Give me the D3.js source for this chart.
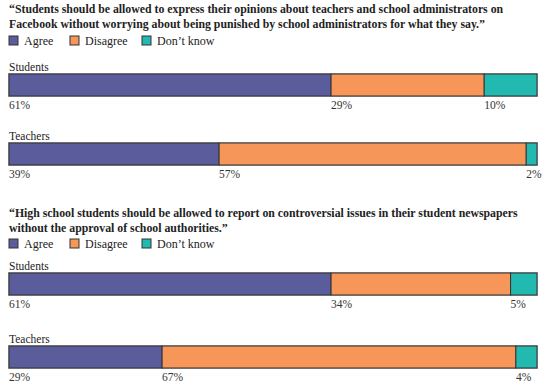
<!DOCTYPE html>
<html>
<head>
<meta charset="utf-8">
<script src="https://cdn.jsdelivr.net/npm/d3@7"></script>
<style>
  body { margin: 0; background: #fff; }
  svg text { font-family: "Liberation Serif", "Times New Roman", serif; }
</style>
</head>
<body>
<div id="chart"></div>
<script>
// data
var categories = ["Agree", "Disagree", "Don\u2019t know"];
var groups = ["Students", "Teachers"];
var q1Title = ["\u201cStudents should be allowed to express their opinions about teachers and school administrators on",
               "Facebook without worrying about being punished by school administrators for what they say.\u201d"];
var q2Title = ["\u201cHigh school students should be allowed to report on controversial issues in their student newspapers",
               "without the approval of school authorities.\u201d"];
var q1Students = [61, 29, 10];
var q1Teachers = [39, 57, 2];
var q2Students = [61, 34, 5];
var q2Teachers = [29, 67, 4];

var width = 547, height = 387;
var left = 9, right = 537;
var barH = 22;
var colors = d3.scaleOrdinal()
    .domain(categories)
    .range(["#5a5c9c", "#f79659", "#22b9b1"]);

var svg = d3.select("#chart")
    .append("svg")
    .attr("width", width)
    .attr("height", height);

// one question block: title, legend, two bars
// titleY = baseline of first title line, legY = top of legend boxes, barY = top of each bar
function block(titleY, legY, barY, title, rows) {
    var g = svg.append("g");

    g.selectAll("text.title")
        .data(title)
        .enter().append("text")
        .attr("x", left)
        .attr("y", function(d, i) { return titleY + i * 15; })
        .attr("font-size", 11.8)
        .attr("font-weight", "bold")
        .attr("fill", "#222")
        .text(function(d) { return d; });

    // legend
    var legX = [left, 70, 142];
    var leg = g.selectAll("g.leg")
        .data(categories)
        .enter().append("g")
        .attr("transform", function(d, i) { return "translate(" + legX[i] + "," + legY + ")"; });
    leg.append("rect")
        .attr("width", 9)
        .attr("height", 9)
        .attr("fill", function(d) { return colors(d); })
        .attr("stroke", "#333")
        .attr("stroke-width", 1);
    leg.append("text")
        .attr("x", 15)
        .attr("y", 9)
        .attr("font-size", 12)
        .attr("fill", "#222")
        .text(function(d) { return d; });

    rows.forEach(function(vals, r) {
        var y0 = barY[r];
        var x = d3.scaleLinear()
            .domain([0, d3.sum(vals)])
            .range([left, right]);
        var starts = [];
        vals.reduce(function(acc, v) { starts.push(acc); return acc + v; }, 0);

        g.append("text")
            .attr("x", left)
            .attr("y", y0 - 3)
            .attr("font-size", 11.5)
            .attr("fill", "#222")
            .text(groups[r]);

        // gray outer edge
        g.append("rect")
            .attr("x", left - 0.5)
            .attr("y", y0 - 0.5)
            .attr("width", right - left + 1)
            .attr("height", barH + 1)
            .attr("fill", "none")
            .attr("stroke", "#aaa");

        g.selectAll("rect.seg")
            .data(vals)
            .enter().append("rect")
            .attr("x", function(d, i) { return x(starts[i]); })
            .attr("y", y0)
            .attr("width", function(d) { return x(d) - x(0); })
            .attr("height", barH)
            .attr("fill", function(d, i) { return colors(categories[i]); })
            .attr("stroke", "#333")
            .attr("stroke-width", 1);

        g.selectAll("text.pct")
            .data(vals)
            .enter().append("text")
            .attr("x", function(d, i) { return x(starts[i]); })
            .attr("y", y0 + barH + 13)
            .attr("font-size", 11.5)
            .attr("fill", "#333")
            .text(function(d) { return d + "%"; });
    });
}

block(13, 36, [74, 143], q1Title, [q1Students, q1Teachers]);
block(217, 239, [273, 346], q2Title, [q2Students, q2Teachers]);
</script>
</body>
</html>
